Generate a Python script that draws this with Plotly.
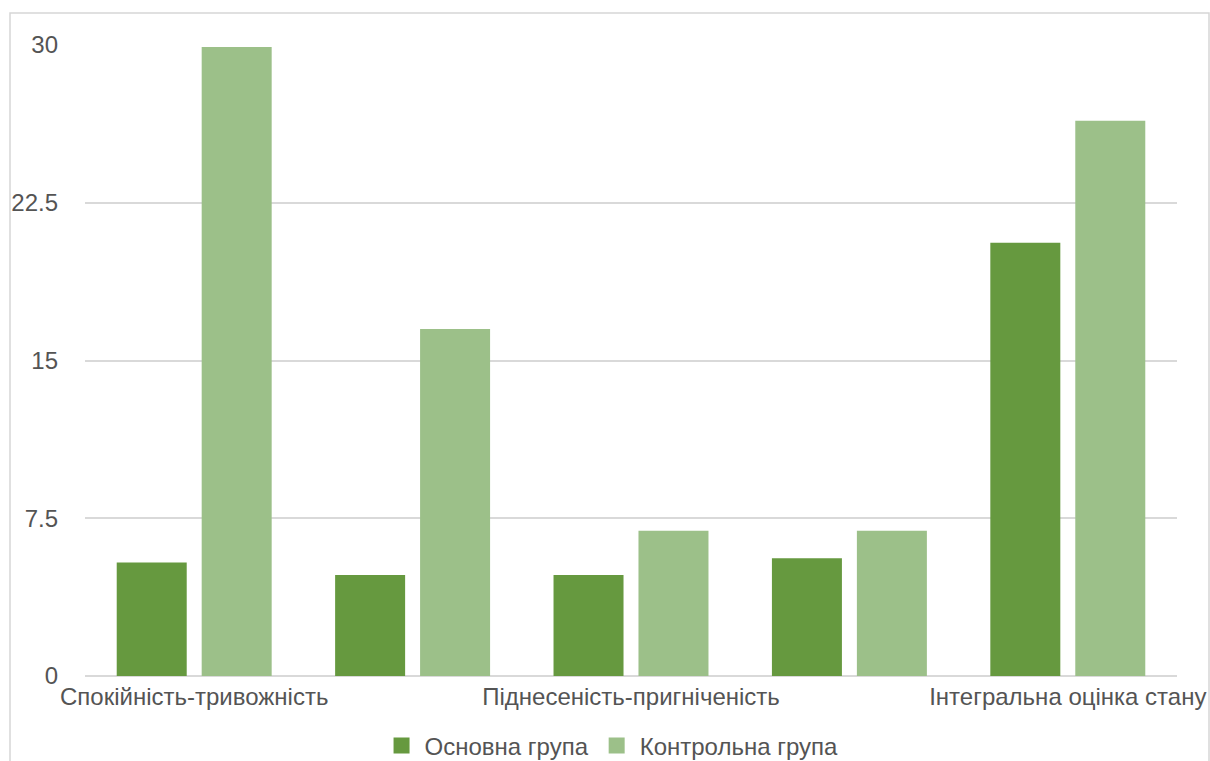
import plotly.graph_objects as go

# Шкали методики самооцінки психічного стану
categories = [
    "Спокійність-тривожність",
    "Енергійність-втомленість",
    "Піднесеність-пригніченість",
    "Впевненість-безпорадність",
    "Інтегральна оцінка стану",
]
# Підписи осі X показуються через одну шкалу
tick_labels = ["Спокійність-тривожність", "", "Піднесеність-пригніченість", "", "Інтегральна оцінка стану"]

series_names = ["Основна група", "Контрольна група"]
main_group = [5.4, 4.8, 4.8, 5.6, 20.6]
control_group = [29.9, 16.5, 6.9, 6.9, 26.4]

y_ticks = [0, 7.5, 15, 22.5, 30]
y_tick_text = ["0", "7.5", "15", "22.5", "30"]

COLORS = ["#66993f", "#9cc089"]
FONT = "Liberation Sans, Arial, sans-serif"
TEXT = "#545454"
FS = 24

fig = go.Figure()
for name, vals, col in zip(series_names, [main_group, control_group], COLORS):
    fig.add_trace(go.Bar(
        name=name, x=categories, y=vals, showlegend=False,
        marker=dict(color=col, line=dict(width=0)),
    ))
# Легенда з більшими квадратними маркерами
for name, col in zip(series_names, COLORS):
    fig.add_trace(go.Scatter(
        name=name, x=[None], y=[None], mode="markers",
        marker=dict(symbol="square", size=18, color=col),
        showlegend=True,
    ))

W, H = 1210, 761
ML, MR, MT, MB = 85, 33, 45, 85
pw, ph = W - ML - MR, H - MT - MB

def px_x(p):
    return (p - ML) / pw

def px_y(p):
    return (H - MB - p) / ph

fig.update_layout(
    width=W, height=H,
    margin=dict(l=ML, r=MR, t=MT, b=MB, autoexpand=False),
    paper_bgcolor="white", plot_bgcolor="white",
    barmode="group", bargap=0.222, bargroupgap=0.176,
    font=dict(family=FONT, size=FS, color=TEXT),
    showlegend=True,
    legend=dict(
        orientation="h", xref="container", x=0.505, xanchor="center",
        yref="container", y=(H - 746) / H, yanchor="middle",
        font=dict(family=FONT, size=FS, color=TEXT),
        itemwidth=36, tracegroupgap=0,
    ),
    xaxis=dict(
        tickmode="array", tickvals=categories, ticktext=tick_labels,
        showgrid=False, showline=False, ticks="",
        ticklabelstandoff=4,
        tickfont=dict(family=FONT, size=FS, color=TEXT),
        tickangle=0, automargin=False,
    ),
    yaxis=dict(
        range=[0, 30], tickmode="array", tickvals=y_ticks, ticktext=y_tick_text,
        showgrid=True, gridcolor="#d9d9d9", gridwidth=2,
        zeroline=True, zerolinecolor="#d9d9d9", zerolinewidth=2,
        showline=False, ticks="",
        ticklabelstandoff=26, automargin=False,
        tickfont=dict(family=FONT, size=FS, color=TEXT),
    ),
    shapes=[dict(
        type="rect", xref="paper", yref="paper",
        x0=px_x(10), x1=px_x(1209), y0=px_y(775), y1=px_y(13),
        line=dict(color="#d6d6d6", width=1.5), fillcolor="rgba(0,0,0,0)",
        layer="below",
    )],
)

fig.write_html("out.html")
